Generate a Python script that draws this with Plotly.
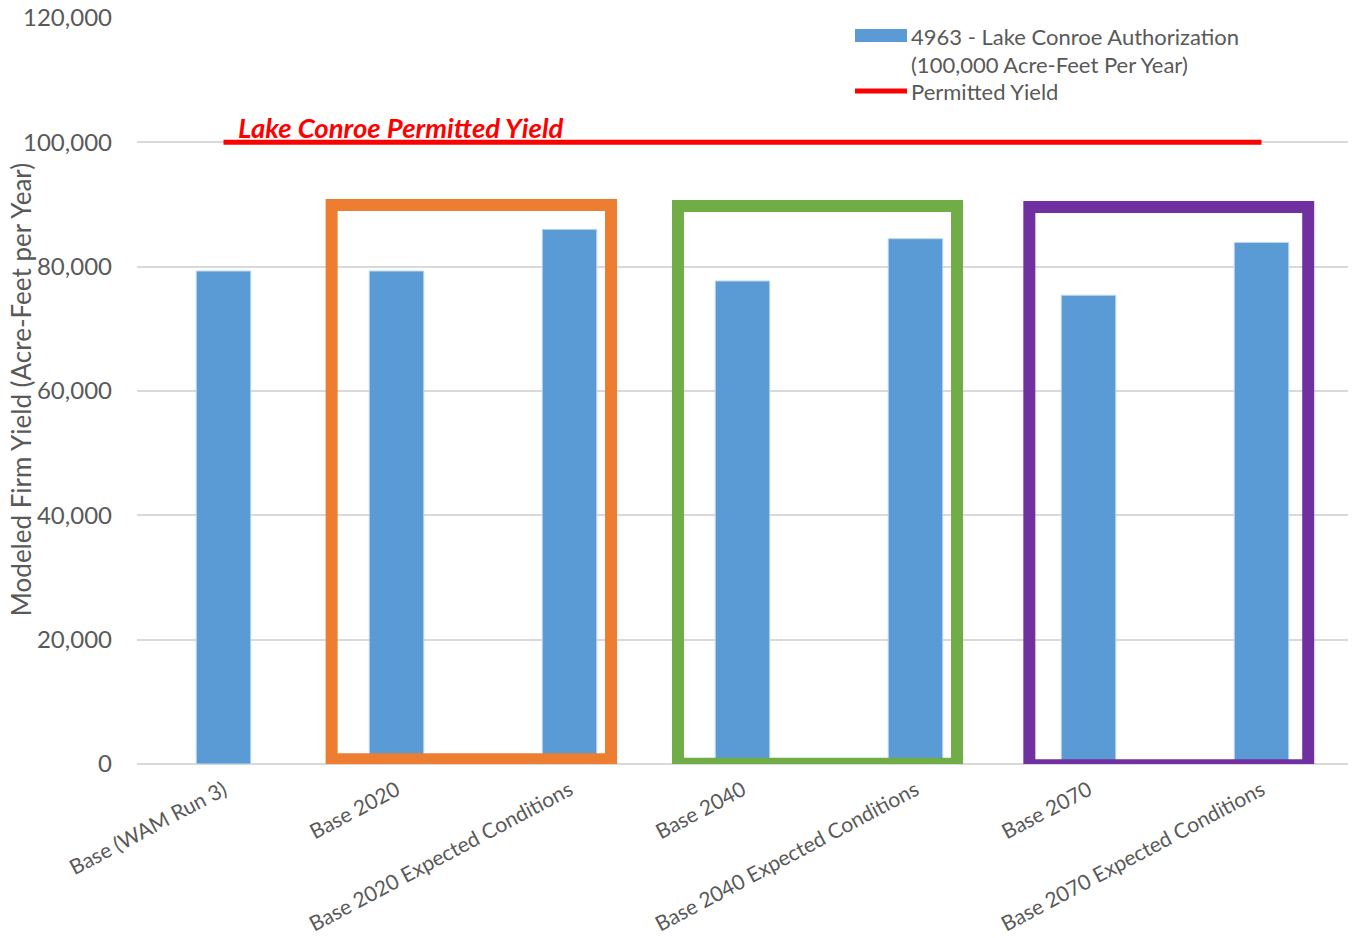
import plotly.graph_objects as go

categories = ["Base (WAM Run 3)", "Base 2020", "Base 2020 Expected Conditions",
              "Base 2040", "Base 2040 Expected Conditions",
              "Base 2070", "Base 2070 Expected Conditions"]
firm_yield = [79300, 79300, 86000, 77700, 84500, 75400, 83900]
permitted_yield = [100000] * len(categories)

bar_name = "4963 - Lake Conroe Authorization<br>(100,000 Acre-Feet Per Year)"
line_name = "Permitted Yield"
y_title = "Modeled Firm Yield (Acre-Feet per Year)"

FONT = "Lato"
GRAY = "#595959"
BLUE = "#5B9BD5"

L, R, T, B = 137, 5, 18, 174.3
PW, PH = 1353 - L - R, 938 - T - B


def px(x):
    return (x - L) / PW


def py(y):
    return (938 - B - y) / PH


fig = go.Figure()
fig.add_trace(go.Bar(x=categories, y=firm_yield, name=bar_name,
                     marker=dict(color=BLUE, line=dict(color="#BDD7EE", width=1)),
                     width=0.315, showlegend=False))
fig.add_trace(go.Scatter(x=categories, y=permitted_yield, name=line_name, mode="lines",
                         line=dict(color="#FF0000", width=5), showlegend=False))

# group boxes
boxes = [(0.625, 2.240, 760, 89900, "#ED7D31"),
         (2.627, 4.240, 60, 89750, "#70AD47"),
         (4.658, 6.270, -200, 89600, "#7030A0")]
for x0, x1, y0, y1, c in boxes:
    fig.add_shape(type="rect", xref="x", yref="y", x0=x0, x1=x1, y0=y0, y1=y1,
                  line=dict(color=c, width=12), fillcolor="rgba(0,0,0,0)", layer="above")

fig.add_annotation(x=0.07, y=100000, xref="x", yref="y", text="<b><i>Lake Conroe Permitted Yield</i></b>",
                   showarrow=False, xanchor="left", yanchor="bottom", yshift=-4,
                   font=dict(family=FONT, size=27.5, color="#FF0000"))

# custom legend
fig.add_shape(type="rect", xref="paper", yref="paper",
              x0=px(855), x1=px(907), y0=py(42), y1=py(29),
              fillcolor=BLUE, line=dict(width=0))
fig.add_shape(type="line", xref="paper", yref="paper",
              x0=px(855), x1=px(907), y0=py(91), y1=py(91),
              line=dict(color="#FF0000", width=5))
for txt, yy in [(bar_name.split("<br>")[0], 36), (bar_name.split("<br>")[1], 64), (line_name, 91)]:
    fig.add_annotation(xref="paper", yref="paper", x=px(909), y=py(yy),
                       text=txt, showarrow=False, xanchor="left", yanchor="middle",
                       font=dict(family=FONT, size=22, color=GRAY))

# y-axis title
fig.add_annotation(xref="paper", yref="paper", x=px(21), y=py(390), text=y_title,
                   textangle=-90, showarrow=False, xanchor="center", yanchor="middle",
                   font=dict(family=FONT, size=26, color=GRAY))

fig.update_layout(
    width=1353, height=938,
    margin=dict(l=L, r=R, t=T, b=B, autoexpand=False),
    plot_bgcolor="white", paper_bgcolor="white",
    font=dict(family=FONT, color=GRAY),
    bargap=0.685,
)
fig.update_xaxes(tickangle=-28, tickfont=dict(size=21, color=GRAY, family=FONT),
                 showgrid=False, showline=False, ticks="", ticklabelstandoff=9,
                 automargin=False)
fig.update_yaxes(range=[0, 120000], dtick=20000, tickformat=",", showgrid=True,
                 gridcolor="#D9D9D9", gridwidth=2, zeroline=True, zerolinecolor="#D9D9D9",
                 zerolinewidth=2, tickfont=dict(size=24, color=GRAY, family=FONT),
                 ticks="", ticklabelstandoff=24, automargin=False)

fig.write_html("out.html")
